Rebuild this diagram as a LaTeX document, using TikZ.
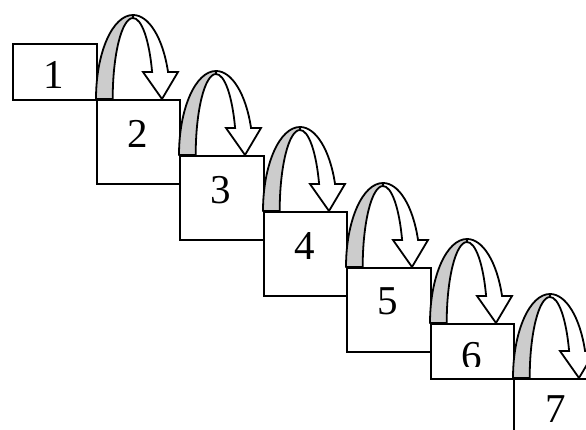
\documentclass[tikz,border=0pt]{standalone}
\usepackage{fontspec}
\setmainfont{Liberation Serif}
\definecolor{bandgray}{RGB}{204,204,204}
\begin{document}
\begin{tikzpicture}[x=1pt,y=1pt,
  stepbox/.style={draw=black,fill=white,line width=2pt,inner sep=0pt,anchor=north west},
  numlabel/.style={anchor=base,inner sep=0pt,text depth=0pt,font=\fontsize{41}{44}\selectfont},
  backband/.style={draw=black,fill=bandgray,line width=1.8pt,line join=round},
  frontband/.style={draw=black,fill=white,line width=1.8pt,line join=miter}]
\useasboundingbox (0,0) rectangle (586,430);
\clip (0,0) rectangle (586,430);
% boxes
\node[stepbox,minimum width=84pt,minimum height=56pt] (b1) at (12,387) {};
\node[stepbox,minimum width=83pt,minimum height=84pt] (b2) at (96,331) {};
\node[stepbox,minimum width=84pt,minimum height=84pt] (b3) at (179,275) {};
\node[stepbox,minimum width=83pt,minimum height=84pt] (b4) at (263,219) {};
\node[stepbox,minimum width=84pt,minimum height=84pt] (b5) at (346,163) {};
\node[stepbox,minimum width=83pt,minimum height=55pt] (b6) at (430,107) {};
\node[stepbox,minimum width=120pt,minimum height=80pt] (b7) at (513,52) {};
% labels
\node[numlabel] (t1) at (54,341.7) {1};
\node[numlabel] (t2) at (137.5,282.7) {2};
\node[numlabel] (t3) at (221,226) {3};
\node[numlabel] (t4) at (304.5,170.5) {4};
\node[numlabel] (t5) at (388,115) {5};
\begin{scope}
  \clip (430,63.5) rectangle (513,107);
  \node[numlabel] (t6) at (471.5,60.5) {6};
\end{scope}
\node[numlabel] (t7) at (556,7.5) {7};
% curved arrows
\foreach \px/\py in {96/331,179/275,263/219,346/163,430/107,513/52}{
  \begin{scope}[shift={(\px,\py)}]
    \draw[backband] (0,0) arc[start angle=180,end angle=90,x radius=37,y radius=84]
      -- (37,81) arc[start angle=90,end angle=180,x radius=20.3,y radius=81] -- cycle;
    \draw[frontband] (37,84) arc[start angle=90,end angle=18.75,x radius=37,y radius=84]
      -- (82,27) -- (66,0) -- (47,27) -- (56.1,27)
      arc[start angle=19.47,end angle=90,x radius=20.3,y radius=81] -- cycle;
  \end{scope}
}
\end{tikzpicture}
\end{document}
